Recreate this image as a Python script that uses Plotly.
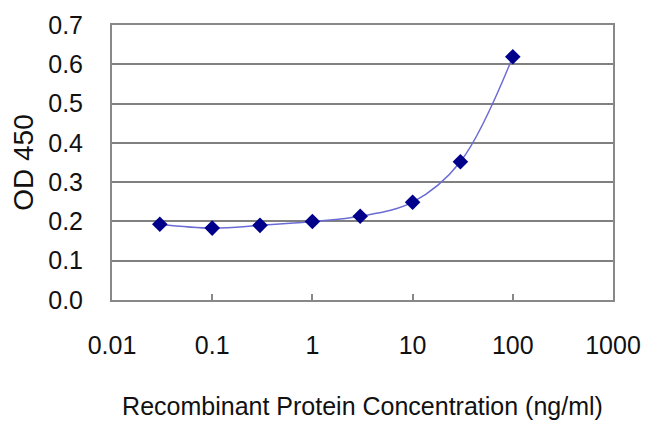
import plotly.graph_objects as go

concentration = [0.03, 0.1, 0.3, 1, 3, 10, 30, 100]
od450 = [0.193, 0.183, 0.190, 0.200, 0.213, 0.249, 0.352, 0.619]
x_tickvals = [0.01, 0.1, 1, 10, 100, 1000]
x_ticktext = ["0.01", "0.1", "1", "10", "100", "1000"]
y_tickvals = [0.0, 0.1, 0.2, 0.3, 0.4, 0.5, 0.6, 0.7]
y_ticktext = ["0.0", "0.1", "0.2", "0.3", "0.4", "0.5", "0.6", "0.7"]

font = "Liberation Sans, Arial, sans-serif"

fig = go.Figure()
fig.add_trace(go.Scatter(
    x=concentration, y=od450, mode="lines+markers",
    line=dict(color="#6b6bd6", width=1.5, shape="spline", smoothing=1.0),
    marker=dict(symbol="diamond", size=12, color="#00008b"),
    showlegend=False,
))

# page body has an 8px margin, so the figure is shrunk by 8px and margins shifted
fig.update_layout(
    width=642, height=425,
    margin=dict(l=104, r=37, t=17, b=133),
    paper_bgcolor="white", plot_bgcolor="white",
    font=dict(family=font, size=25, color="#111"),
    xaxis=dict(
        type="log", range=[-2, 3], automargin=False,
        tickvals=x_tickvals, ticktext=x_ticktext,
        ticks="inside", ticklen=6, tickcolor="#888", tickwidth=2,
        showgrid=False, showline=True, linecolor="#888", linewidth=2, mirror=True,
        ticklabelstandoff=22,
        title=dict(text="Recombinant Protein Concentration (ng/ml)", standoff=39,
                   font=dict(size=25)),
        zeroline=False,
    ),
    yaxis=dict(
        range=[0, 0.7], automargin=False,
        tickvals=y_tickvals, ticktext=y_ticktext,
        showgrid=True, gridcolor="#808080", gridwidth=2,
        showline=True, linecolor="#888", linewidth=2, mirror=True,
        ticks="", ticklabelstandoff=22,
        title=dict(text="OD 450", standoff=23, font=dict(size=28)),
        zeroline=False,
    ),
)

fig.write_html("out.html")
